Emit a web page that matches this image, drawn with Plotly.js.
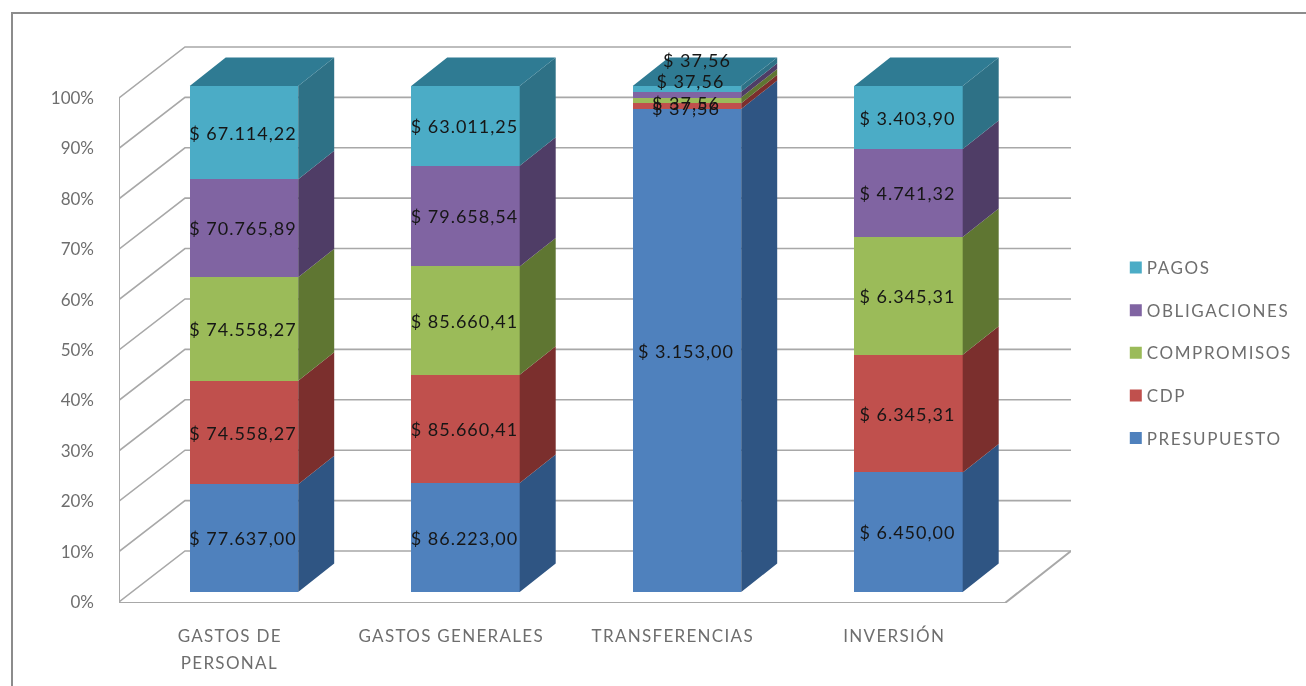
<!DOCTYPE html>
<html>
<head>
<meta charset="utf-8">
<script src="https://cdn.plot.ly/plotly-3.0.1.min.js"></script>
<style>
html,body{margin:0;padding:0;background:#fff;overflow:hidden;width:1306px;height:686px}
#frame{position:absolute;left:11px;top:12px;width:1320px;height:700px;border:2px solid #8c8c8c;box-sizing:border-box}
#gd{position:absolute;left:0;top:0;width:1306px;height:686px;filter:blur(0.7px)}
.xtick text,.annotation text{letter-spacing:1.3px}
.legendtext{letter-spacing:1.6px}
.textpoint text{letter-spacing:1px}
</style>
</head>
<body>
<div id="frame"></div>
<div id="gd"></div>
<script>
// ---- data ----
const categories = ["GASTOS DE", "GASTOS GENERALES", "TRANSFERENCIAS", "INVERSIÓN"];
const categorySecondLine = ["PERSONAL", "", "", ""];
const seriesNames = ["PRESUPUESTO", "CDP", "COMPROMISOS", "OBLIGACIONES", "PAGOS"];
const presupuesto = [77637.00, 86223.00, 3153.00, 6450.00];
const cdp = [74558.27, 85660.41, 37.56, 6345.31];
const compromisos = [74558.27, 85660.41, 37.56, 6345.31];
const obligaciones = [70765.89, 79658.54, 37.56, 4741.32];
const pagos = [67114.22, 63011.25, 37.56, 3403.90];
const percentTicks = [0, 10, 20, 30, 40, 50, 60, 70, 80, 90, 100];

// ---- styling ----
const frontColors = ["#4f81bd", "#c0504d", "#9bbb59", "#8064a2", "#4bacc6"];
const sideColors = ["#2f5583", "#7b2f2d", "#5f7632", "#4f3d66", "#2e7186"];
const topColor = "#2f7b93";
const gridColor = "#a8a8a8";
const textFont = "Lato, Carlito, 'Open Sans', sans-serif";

// geometry of the fake 3D, in axis units
const pxPerCat = 221.5, pxPerPctWall = 5.04, pxPerPctBar = 5.06;
const barShift = 14.2 / pxPerCat, barWidth = 108.5 / pxPerCat;
const barDepthX = 36 / pxPerCat, barDepthY = 28.5 / pxPerPctBar;
const wallDepthX = 66 / pxPerCat, wallDepthY = 51 / pxPerPctWall;
const xLeft = -0.5, xFront = 3.5, xRight = xFront + wallDepthX;

// general downward nudge of value labels and extra nudges for the crowded labels
// of the thin TRANSFERENCIAS segments
const labelBasePct = -0.5, labelBaseCat = -1 / pxPerCat;
const labelLiftPct = [[0,0,0,0],[0,0,-0.4,0],[0,0,-0.6,0],[0,0,2.7,0],[0,0,5.7,0]];
const labelLiftCat = [[0,0,0,0],[0,0,0,0],[0,0,0,0],[0,0,0.02,0],[0,0,0.05,0]];

const series = [presupuesto, cdp, compromisos, obligaciones, pagos];
const totals = categories.map((_, i) => series.reduce((s, a) => s + a[i], 0));
const fmt = v => {
  const [a, b] = v.toFixed(2).split(".");
  return "$ " + a.replace(/\B(?=(\d{3})+$)/g, ".") + "," + b;
};
const centers = categories.map((_, i) => i + barShift);

const traces = [];

// back wall, side wall and floor, on the wall axis
const wallX = [], wallY = [];
percentTicks.forEach(t => {
  wallX.push(xLeft, xLeft + wallDepthX, xRight, null);
  wallY.push(t, t + wallDepthY, t + wallDepthY, null);
});
traces.push({x: wallX, y: wallY, mode: "lines", line: {color: gridColor, width: 1.6},
  showlegend: false, hoverinfo: "skip", xaxis: "x", yaxis: "y"});
traces.push({x: [xLeft, xLeft, xFront, xRight],
  y: [100, -0.2, -0.2, wallDepthY], mode: "lines", line: {color: gridColor, width: 2},
  showlegend: false, hoverinfo: "skip", xaxis: "x", yaxis: "y"});

// front faces
series.forEach((vals, s) => {
  traces.push({type: "bar", name: seriesNames[s], x: centers, y: vals, width: barWidth,
    marker: {color: frontColors[s], line: {width: 0}},
    legendgroup: seriesNames[s], legendrank: 1000 - s,
    xaxis: "x", yaxis: "y2", hoverinfo: "name+y"});
});

// side faces
const cum = categories.map(() => 0);
const mids = [];
series.forEach((vals, s) => {
  const px = [], py = [], m = [];
  vals.forEach((v, i) => {
    const c0 = cum[i] / totals[i] * 100;
    cum[i] += v;
    const c1 = cum[i] / totals[i] * 100;
    m.push((c0 + c1) / 2);
    const xr = centers[i] + barWidth / 2;
    px.push(xr, xr + barDepthX, xr + barDepthX, xr, xr, null);
    py.push(c0, c0 + barDepthY, c1 + barDepthY, c1, c0, null);
  });
  mids.push(m);
  traces.push({x: px, y: py, mode: "lines", fill: "toself", fillcolor: sideColors[s],
    line: {width: 0, color: sideColors[s]}, showlegend: false, hoverinfo: "skip",
    xaxis: "x", yaxis: "y2"});
});

// top faces
const tx = [], ty = [];
centers.forEach(c => {
  const xl = c - barWidth / 2, xr = c + barWidth / 2;
  tx.push(xl, xr, xr + barDepthX, xl + barDepthX, xl, null);
  ty.push(100, 100, 100 + barDepthY, 100 + barDepthY, 100, null);
});
traces.push({x: tx, y: ty, mode: "lines", fill: "toself", fillcolor: topColor,
  line: {width: 0, color: topColor}, showlegend: false, hoverinfo: "skip",
  xaxis: "x", yaxis: "y2"});

// value labels
series.forEach((vals, s) => {
  traces.push({x: centers.map((c, i) => c + labelBaseCat + labelLiftCat[s][i]),
    y: mids[s].map((m, i) => m + labelBasePct + labelLiftPct[s][i]),
    text: vals.map(fmt), mode: "text", textposition: "middle center",
    textfont: {family: textFont, size: 18, color: "#161616"},
    showlegend: false, hoverinfo: "skip", cliponaxis: false, xaxis: "x", yaxis: "y2"});
});

const layout = {
  width: 1306, height: 686,
  margin: {l: 119, r: 235, t: 40, b: 83, pad: 0, autoexpand: false},
  paper_bgcolor: "rgba(0,0,0,0)", plot_bgcolor: "rgba(0,0,0,0)",
  barmode: "stack", barnorm: "percent",
  showlegend: true,
  legend: {x: 1.0376, xanchor: "left", y: 0.444, yanchor: "middle",
    traceorder: "grouped", tracegroupgap: 17.5,
    font: {family: textFont, size: 17, color: "#6e6e6e"}, bgcolor: "rgba(0,0,0,0)"},
  xaxis: {range: [xLeft, xRight], tickmode: "array", tickvals: [0, 1, 2, 3],
    ticktext: categories, ticks: "", showgrid: false, zeroline: false, showline: false,
    ticklabelstandoff: 21, tickangle: 0,
    tickfont: {family: textFont, size: 17, color: "#6e6e6e"}},
  yaxis: {range: [-0.2, 111.5], tickmode: "array", tickvals: percentTicks,
    ticktext: percentTicks.map(t => t + "%"), ticks: "", showgrid: false, zeroline: false,
    showline: false, ticklabelstandoff: 24,
    tickfont: {family: textFont, size: 17, color: "#6e6e6e"}},
  yaxis2: {overlaying: "y", range: [-11 / pxPerPctBar, 552 / pxPerPctBar], visible: false,
    showgrid: false, zeroline: false},
  annotations: categorySecondLine.map((t, i) => ({
    text: t, x: i, xref: "x", y: (603 - 662) / 563, yref: "paper", yanchor: "middle",
    showarrow: false, font: {family: textFont, size: 17, color: "#6e6e6e"}
  })).filter(a => a.text),
};

Plotly.newPlot("gd", traces, layout, {displayModeBar: false, staticPlot: true}).then(() => {
  document.querySelectorAll("#gd .legend g.legendpoints").forEach(g => {
    g.setAttribute("transform", "translate(9,0)");
  });
});
</script>
</body>
</html>
